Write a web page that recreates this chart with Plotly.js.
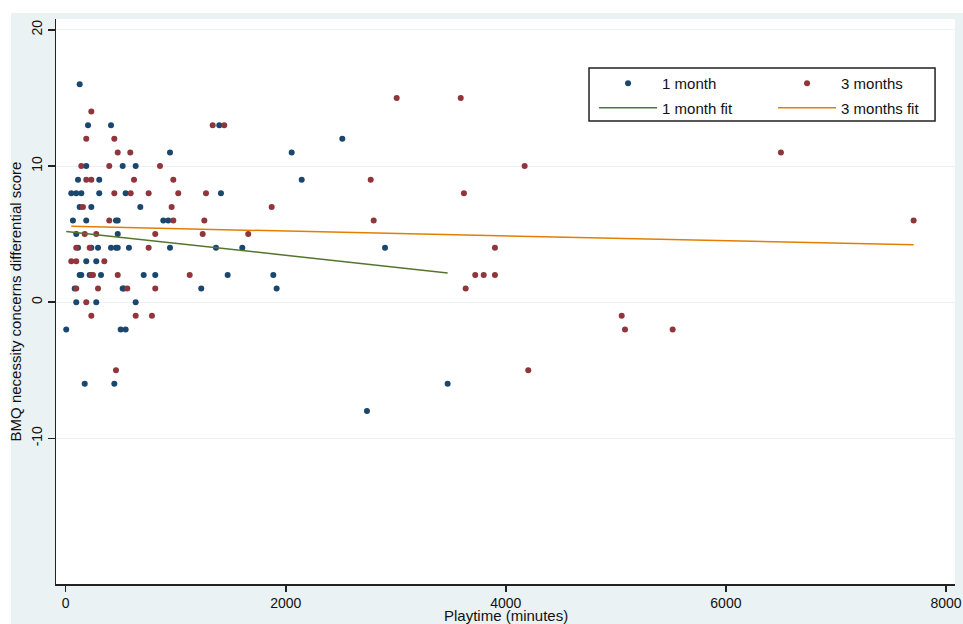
<!DOCTYPE html>
<html>
<head>
<meta charset="utf-8">
<script src="https://cdn.plot.ly/plotly-3.0.1.min.js"></script>
<style>html,body{margin:0;padding:0;background:#fff;}#chart{width:963px;height:624px;}</style>
</head>
<body>
<div id="chart"></div>
<script>
// 1 month: playtime (minutes) and BMQ differential score
const month1X = [127, 203, 412, 1396, 2514, 948, 2054, 187, 518, 636, 112, 305, 2145,
  51, 96, 142, 305, 545, 1411, 127, 233, 678, 66, 187, 457, 473, 887, 932, 96, 473,
  112, 233, 294, 412, 457, 473, 575, 948, 1366, 1605, 2902, 187, 278,
  127, 142, 218, 321, 709, 814, 1472, 1887, 82, 518, 530, 1232, 1917,
  96, 278, 636, 5, 500, 545, 173, 442, 3471, 2738];
const month1Y = [16, 13, 13, 13, 12, 11, 11, 10, 10, 10, 9, 9, 9,
  8, 8, 8, 8, 8, 8, 7, 7, 7, 6, 6, 6, 6, 6, 6, 5, 5,
  4, 4, 4, 4, 4, 4, 4, 4, 4, 4, 4, 3, 3,
  2, 2, 2, 2, 2, 2, 2, 2, 1, 1, 1, 1, 1,
  0, 0, 0, -2, -2, -2, -6, -6, -6, -8];

// 3 months
const month3X = [3008, 3590, 233, 1336, 1441, 187, 442, 473, 587, 6500,
  142, 396, 857, 4171, 187, 233, 621, 978, 2772,
  442, 591, 754, 1023, 1275, 3619, 157, 963, 1872,
  396, 978, 1260, 2799, 7706, 173, 278, 814, 1245, 1659,
  96, 218, 754, 3901, 51, 96, 351,
  233, 248, 473, 1127, 3722, 3799, 3901, 96, 294, 560, 814, 3635,
  187, 233, 636, 784, 5053, 5083, 5516, 457, 4204];
const month3Y = [15, 15, 14, 13, 13, 12, 12, 11, 11, 11,
  10, 10, 10, 10, 9, 9, 9, 9, 9,
  8, 8, 8, 8, 8, 8, 7, 7, 7,
  6, 6, 6, 6, 6, 5, 5, 5, 5, 5,
  4, 4, 4, 4, 3, 3, 3,
  2, 2, 2, 2, 2, 2, 2, 1, 1, 1, 1, 1,
  0, -1, -1, -1, -1, -2, -2, -5, -5];

// linear fit endpoints
const fit1X = [5, 3471];
const fit1Y = [5.20, 2.15];
const fit3X = [51, 7706];
const fit3Y = [5.57, 4.21];

const xTicks = [0, 2000, 4000, 6000, 8000];
const yTicks = [-10, 0, 10, 20];

const navy = '#1a476f', maroon = '#90353b', green = '#55752f', orange = '#e37e00';
const bg = '#eaf2f3';
const fontFam = 'Arial, "Liberation Sans", sans-serif';

const traces = [
  {x: month1X, y: month1Y, type: 'scatter', mode: 'markers', name: '1 month',
   legend: 'legend', legendgroup: 'a1', marker: {color: navy, size: 6}},
  {x: month3X, y: month3Y, type: 'scatter', mode: 'markers', name: '3 months',
   legend: 'legend2', legendgroup: 'b1', marker: {color: maroon, size: 6}},
  {x: fit1X, y: fit1Y, type: 'scatter', mode: 'lines', name: '1 month fit',
   legend: 'legend', legendgroup: 'a2', line: {color: green, width: 1.5}},
  {x: fit3X, y: fit3Y, type: 'scatter', mode: 'lines', name: '3 months fit',
   legend: 'legend2', legendgroup: 'b2', line: {color: orange, width: 1.5}}
];

const legendBase = {
  xanchor: 'left', yanchor: 'top', orientation: 'v', itemwidth: 58,
  bgcolor: 'rgba(0,0,0,0)', borderwidth: 0,
  font: {family: fontFam, size: 15, color: '#111'},
  tracegroupgap: 2, itemclick: false, itemdoubleclick: false
};

const layout = {
  width: 963, height: 624,
  margin: {l: 56, r: 8, t: 19, b: 40},
  paper_bgcolor: bg,
  plot_bgcolor: '#ffffff',
  font: {family: fontFam, size: 14, color: '#111'},
  showlegend: true,
  legend: Object.assign({}, legendBase, {x: 0.5985, y: 0.9151}),
  legend2: Object.assign({}, legendBase, {x: 0.7976, y: 0.9151}),
  xaxis: {
    range: [-88, 8082], tickvals: xTicks, ticktext: xTicks.map(String),
    ticks: 'outside', ticklen: 6, tickwidth: 1.5, tickcolor: '#222',
    showline: true, linecolor: '#222', linewidth: 1.5, mirror: false,
    showgrid: false, zeroline: false, automargin: false,
    tickfont: {family: fontFam, size: 14, color: '#111'}
  },
  yaxis: {
    range: [-20.7, 20.8], tickvals: yTicks, ticktext: yTicks.map(String),
    ticks: 'outside', ticklen: 7, tickwidth: 1.5, tickcolor: '#222', tickangle: -90,
    showline: true, linecolor: '#222', linewidth: 1.5,
    showgrid: true, gridcolor: bg, gridwidth: 1, zeroline: false, automargin: false,
    tickfont: {family: fontFam, size: 14, color: '#111'},
    title: {text: 'BMQ necessity concerns differential score', standoff: 3,
            font: {family: fontFam, size: 15, color: '#111'}}
  },
  shapes: [
    {type: 'rect', xref: 'paper', yref: 'paper', x0: -0.0623, x1: 1.0089, y0: 1.01062, y1: 1.0336,
     fillcolor: '#ffffff', line: {width: 0}, layer: 'below'},
    {type: 'rect', xref: 'paper', yref: 'paper', x0: -0.0623, x1: -0.05006, y0: -0.0708, y1: 1.0336,
     fillcolor: '#ffffff', line: {width: 0}, layer: 'below'},
    // legend frame
    {type: 'rect', xref: 'paper', yref: 'paper', x0: 0.5929, x1: 0.9778, y0: 0.8195, y1: 0.9133,
     fillcolor: '#ffffff', line: {color: '#222', width: 1.5}, layer: 'above'}
  ],
  annotations: [
    {text: 'Playtime (minutes)', xref: 'paper', yref: 'paper', x: 0.5, y: -0.056,
     xanchor: 'center', yanchor: 'middle', showarrow: false,
     font: {family: fontFam, size: 15, color: '#111'}}
  ]
};

Plotly.newPlot('chart', traces, layout, {displayModeBar: false, staticPlot: true});
</script>
</body>
</html>
